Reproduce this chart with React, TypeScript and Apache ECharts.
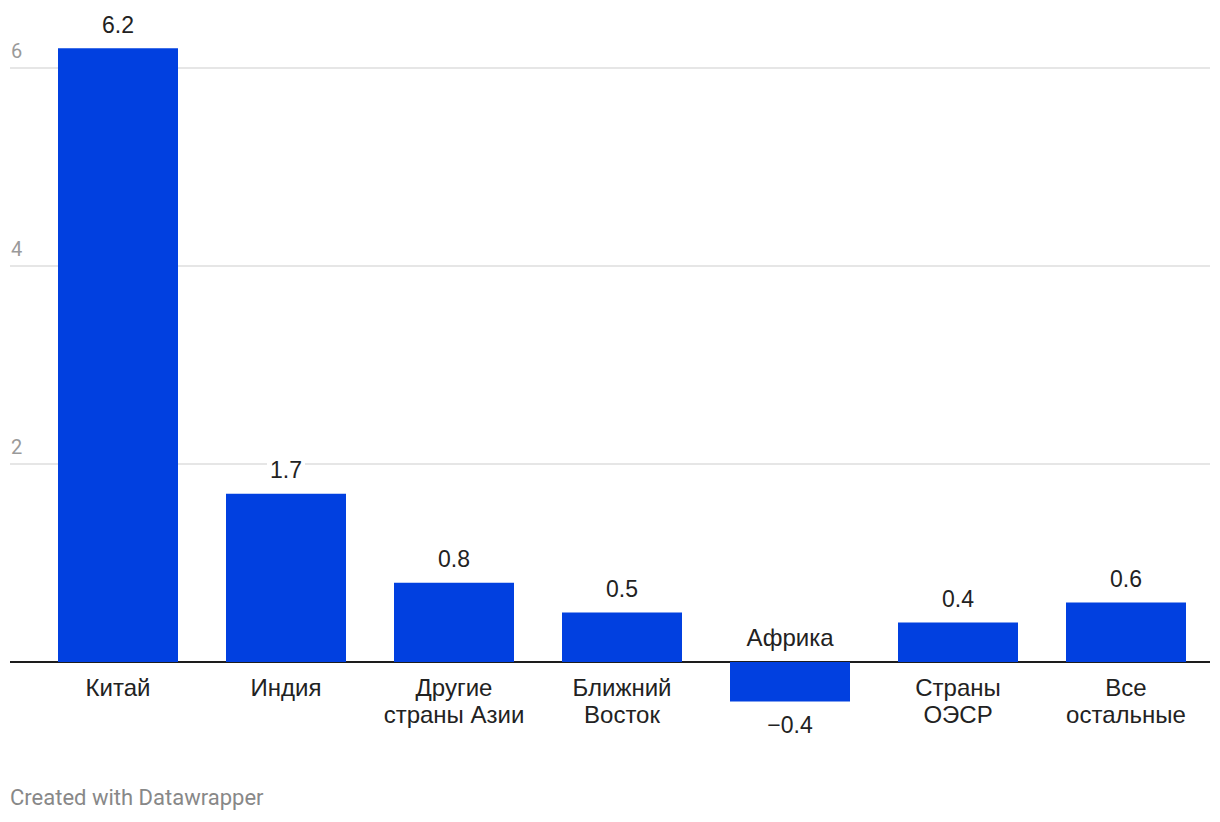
import React, { useEffect, useRef } from "react";
import * as echarts from "echarts";

const categories = [
  "Китай",
  "Индия",
  "Другие\nстраны Азии",
  "Ближний\nВосток",
  "Африка",
  "Страны\nОЭСР",
  "Все\nостальные",
];
const values = [6.2, 1.7, 0.8, 0.5, -0.4, 0.4, 0.6];
const yMin = -1;
const yMax = 6;
const yInterval = 1;
const tickLabels = [2, 4, 6];
const footerText = "Created with Datawrapper";

const BAR_COLOR = "#0140E0";
const LABEL_FONT = "'Liberation Sans', Arial, sans-serif";
const TICK_FONT = "Roboto, sans-serif";

const fmt = (v: number) => (v < 0 ? "\u2212" + Math.abs(v).toFixed(1) : v.toFixed(1));

export default function App() {
  const ref = useRef<HTMLDivElement>(null);
  useEffect(() => {
    if (!ref.current) return;
    const chart = echarts.init(ref.current, null, { renderer: "svg" });
    // split line colours: transparent for odd / below zero, dark for zero, grey for labelled ticks
    const splitColors: string[] = [];
    for (let v = yMin; v <= yMax; v += yInterval) {
      if (v === 0) splitColors.push("#1d1d1d");
      else if (tickLabels.includes(v)) splitColors.push("#e6e6e6");
      else splitColors.push("rgba(0,0,0,0)");
    }
    const option: any = {
      animation: false,
      backgroundColor: "#ffffff",
      grid: [
        { left: 34, right: 10, top: 68, bottom: 61, containLabel: false },
        { left: 10, right: 10, top: 68, bottom: 61, containLabel: false },
      ],
      xAxis: [
        {
          type: "category",
          gridIndex: 0,
          data: categories,
          boundaryGap: true,
          axisLine: { show: false },
          axisTick: { show: false },
          axisLabel: { show: false },
          splitLine: { show: false },
        },
        { type: "value", gridIndex: 1, min: 0, max: 1, show: false },
      ],
      yAxis: [
        {
          type: "value",
          gridIndex: 0,
          min: yMin,
          max: yMax,
          interval: yInterval,
          show: false,
        },
        {
          type: "value",
          gridIndex: 1,
          min: yMin,
          max: yMax,
          interval: yInterval,
          axisLine: { show: false },
          axisTick: { show: false },
          axisLabel: {
            inside: true,
            margin: 1,
            verticalAlign: "bottom",
            padding: [0, 0, 7, 0],
            color: "#9a9a9a",
            fontFamily: TICK_FONT,
            fontSize: 20,
            formatter: (v: number) => (tickLabels.includes(v) ? String(v) : ""),
          },
          splitLine: {
            show: true,
            lineStyle: { width: 2, color: splitColors },
          },
        },
      ],
      series: [
        {
          type: "bar",
          xAxisIndex: 0,
          yAxisIndex: 0,
          barWidth: 120,
          clip: false,
          itemStyle: { color: BAR_COLOR },
          data: values.map((v) => ({
            value: v,
            label: {
              show: true,
              position: v >= 0 ? "top" : "bottom",
              distance: 12,
              formatter: () => fmt(v),
              color: "#222",
              fontFamily: LABEL_FONT,
              fontSize: 23,
              backgroundColor: "#ffffff",
              padding: [0, 3],
            },
          })),
          z: 3,
        },
        {
          type: "custom",
          xAxisIndex: 0,
          yAxisIndex: 0,
          silent: true,
          z: 4,
          data: values.map((v, i) => [i, v]),
          renderItem: (params: any, api: any) => {
            const i = params.dataIndex;
            const v = values[i];
            const p = api.coord([i, 0]);
            const pos = v >= 0;
            return {
              type: "text",
              x: p[0],
              y: p[1] + (pos ? 11.5 : -11.5),
              style: {
                text: categories[i],
                align: "center",
                verticalAlign: pos ? "top" : "bottom",
                fill: "#222",
                fontFamily: LABEL_FONT,
                fontSize: 24,
                lineHeight: 27,
              },
            };
          },
        },
      ],
      graphic: [
        {
          type: "text",
          left: 10,
          top: 786,
          style: {
            text: footerText,
            fill: "#888888",
            fontFamily: TICK_FONT,
            fontSize: 22,
          },
        },
      ],
    };
    chart.setOption(option);
    return () => chart.dispose();
  }, []);
  return (
    <div
      ref={ref}
      style={{ position: "absolute", left: 0, top: 0, width: 1220, height: 822, background: "#fff" }}
    />
  );
}
